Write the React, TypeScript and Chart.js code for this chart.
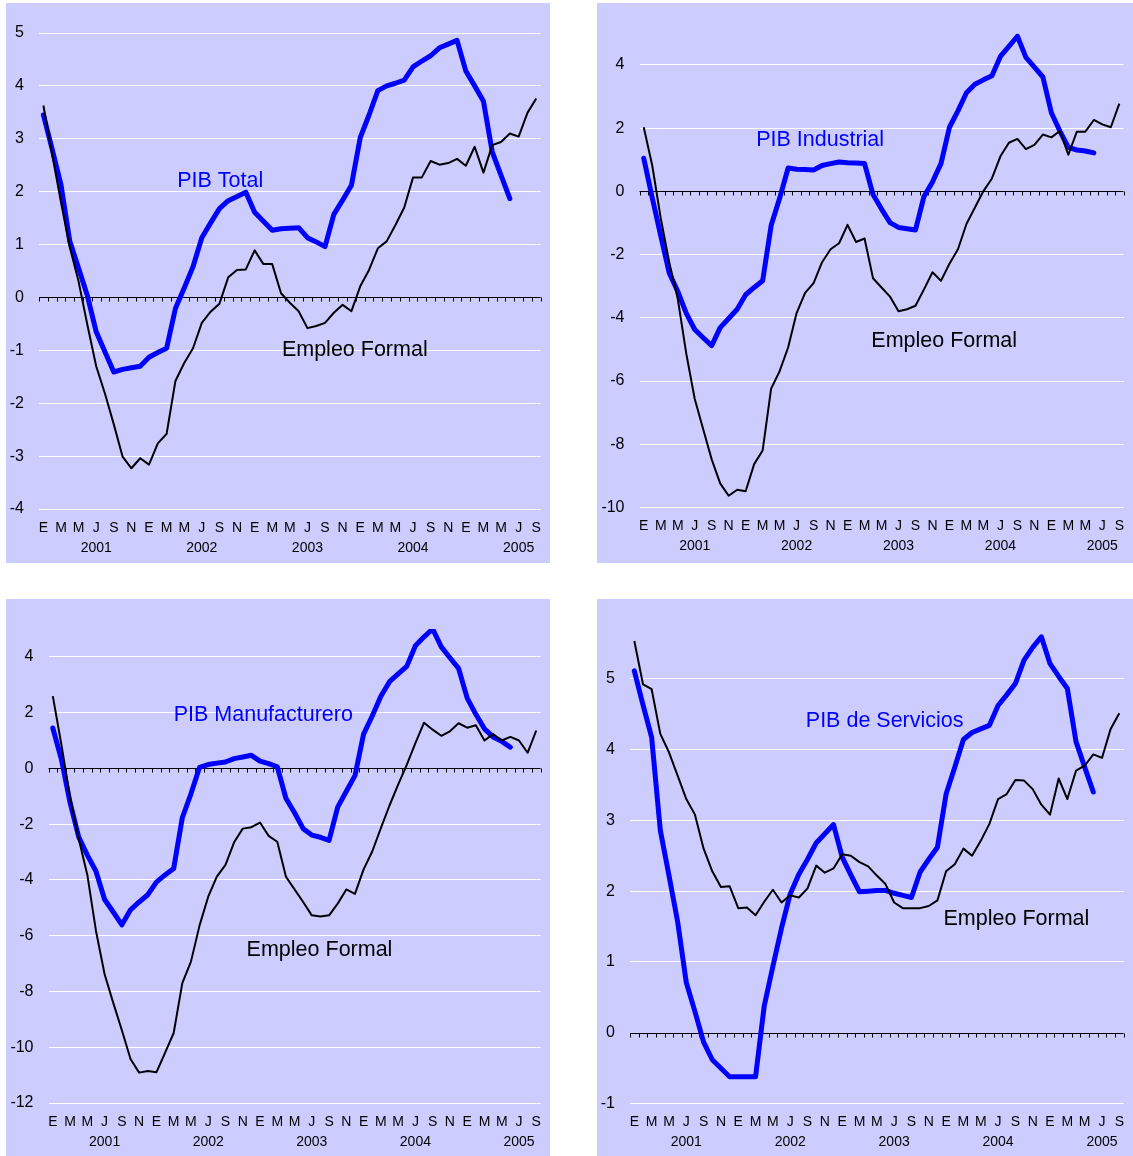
import React, { useEffect, useRef } from 'react';
import { Chart, registerables } from 'chart.js';

Chart.register(...registerables);

// ---------- data ----------
const MONTH_LETTERS = ['E', 'F', 'M', 'A', 'M', 'J', 'J', 'A', 'S', 'O', 'N', 'D'];
const YEARS = ['2001', '2002', '2003', '2004', '2005'];
const N_MONTHS = 57; // Ene 2001 - Sep 2005

const categories: string[] = [];
YEARS.forEach((y) => {
  MONTH_LETTERS.forEach((m) => {
    if (categories.length < N_MONTHS) categories.push(m + ' ' + y);
  });
});

const pibTotal = [
  3.45, 2.8, 2.13, 1.06, 0.55, 0.03, -0.65, -1.03, -1.41, -1.36, -1.33, -1.3,
  -1.13, -1.04, -0.96, -0.21, 0.18, 0.58, 1.13, 1.41, 1.68, 1.83, 1.91, 1.99,
  1.61, 1.44, 1.27, 1.3, 1.31, 1.32, 1.13, 1.05, 0.96, 1.57, 1.84, 2.12,
  3.02, 3.45, 3.91, 4.0, 4.05, 4.11, 4.36, 4.47, 4.57, 4.72, 4.79, 4.86,
  4.28, 4.0, 3.71, 2.75, 2.31, 1.87,
];
const empleoTotal = [
  3.63, 2.7, 1.8, 0.95, 0.3, -0.52, -1.3, -1.82, -2.4, -3.01, -3.23, -3.04,
  -3.16, -2.76, -2.58, -1.58, -1.24, -0.96, -0.48, -0.27, -0.12, 0.38, 0.52, 0.53,
  0.89, 0.63, 0.63, 0.08, -0.1, -0.26, -0.58, -0.54, -0.48, -0.29, -0.14, -0.26,
  0.21, 0.52, 0.93, 1.06, 1.37, 1.7, 2.27, 2.27, 2.58, 2.51, 2.54, 2.62,
  2.49, 2.85, 2.36, 2.88, 2.94, 3.1, 3.04, 3.49, 3.76,
];

const pibIndustrial = [
  1.05, -0.2, -1.4, -2.58, -3.16, -3.85, -4.37, -4.63, -4.88, -4.31, -4.02, -3.73,
  -3.27, -3.04, -2.83, -1.08, -0.22, 0.74, 0.7, 0.69, 0.68, 0.82, 0.88, 0.93,
  0.91, 0.9, 0.88, -0.1, -0.56, -0.99, -1.14, -1.18, -1.22, -0.16, 0.3, 0.88,
  2.03, 2.55, 3.12, 3.39, 3.53, 3.66, 4.27, 4.59, 4.91, 4.24, 3.93, 3.62,
  2.49, 1.91, 1.39, 1.31, 1.28, 1.22,
];
const empleoIndustrial = [
  2.03, 0.82, -0.85, -2.24, -3.39, -5.12, -6.56, -7.53, -8.48, -9.24, -9.63, -9.44,
  -9.49, -8.63, -8.2, -6.24, -5.69, -4.94, -3.85, -3.21, -2.9, -2.24, -1.83, -1.64,
  -1.06, -1.6, -1.49, -2.75, -3.04, -3.33, -3.79, -3.73, -3.62, -3.1, -2.56, -2.83,
  -2.29, -1.83, -1.03, -0.51, 0.01, 0.41, 1.11, 1.54, 1.66, 1.34, 1.47, 1.8,
  1.71, 1.91, 1.16, 1.89, 1.89, 2.26, 2.12, 2.03, 2.78,
];

const pibManufacturero = [
  1.45, 0.32, -1.23, -2.46, -3.11, -3.69, -4.7, -5.15, -5.61, -5.07, -4.79, -4.53,
  -4.08, -3.82, -3.59, -1.77, -0.91, 0.04, 0.14, 0.19, 0.23, 0.35, 0.41, 0.47,
  0.26, 0.17, 0.06, -1.07, -1.59, -2.16, -2.39, -2.47, -2.58, -1.39, -0.82, -0.26,
  1.23, 1.88, 2.59, 3.11, 3.39, 3.66, 4.4, 4.72, 5.0, 4.36, 3.97, 3.59,
  2.52, 1.94, 1.42, 1.13, 0.97, 0.76,
];
const empleoManufacturero = [
  2.59, 0.84, -1.04, -2.52, -3.82, -5.83, -7.38, -8.41, -9.39, -10.42, -10.91, -10.85,
  -10.9, -10.2, -9.49, -7.7, -6.93, -5.63, -4.6, -3.88, -3.46, -2.65, -2.16, -2.11,
  -1.94, -2.42, -2.63, -3.88, -4.34, -4.79, -5.27, -5.31, -5.27, -4.85, -4.34, -4.5,
  -3.62, -2.98, -2.14, -1.33, -0.58, 0.13, 0.91, 1.64, 1.39, 1.17, 1.33, 1.62,
  1.46, 1.55, 1.0, 1.23, 1.0, 1.13, 1.0, 0.56, 1.36,
];

const pibServicios = [
  5.11, 4.63, 4.17, 2.86, 2.22, 1.57, 0.71, 0.3, -0.13, -0.38, -0.5, -0.62,
  -0.62, -0.62, -0.62, 0.38, 0.94, 1.48, 1.96, 2.24, 2.45, 2.68, 2.81, 2.94,
  2.48, 2.23, 1.99, 2.0, 2.01, 2.01, 1.97, 1.94, 1.91, 2.27, 2.45, 2.62,
  3.37, 3.75, 4.14, 4.24, 4.29, 4.34, 4.62, 4.77, 4.93, 5.26, 5.44, 5.59,
  5.21, 5.03, 4.86, 4.11, 3.75, 3.4,
];
const empleoServicios = [
  5.53, 4.92, 4.85, 4.22, 3.96, 3.63, 3.3, 3.08, 2.6, 2.28, 2.06, 2.07,
  1.76, 1.77, 1.66, 1.85, 2.02, 1.84, 1.94, 1.91, 2.04, 2.36, 2.26, 2.32,
  2.52, 2.5, 2.41, 2.35, 2.22, 2.1, 1.84, 1.76, 1.76, 1.76, 1.79, 1.87,
  2.28, 2.38, 2.6, 2.5, 2.71, 2.95, 3.3, 3.37, 3.57, 3.56, 3.44, 3.22,
  3.08, 3.59, 3.3, 3.7, 3.77, 3.93, 3.88, 4.29, 4.51,
];

const ticksTotal = [-4, -3, -2, -1, 0, 1, 2, 3, 4, 5];
const ticksIndustrial = [-10, -8, -6, -4, -2, 0, 2, 4];
const ticksManufacturero = [-12, -10, -8, -6, -4, -2, 0, 2, 4];
const ticksServicios = [-1, 0, 1, 2, 3, 4, 5];

// ---------- styling / layout ----------
const BG = '#CCCCFF';
const BLUE = '#0000FF';
const FONT = '"Liberation Sans", Arial, Helvetica, sans-serif';

type PanelCfg = {
  left: number; top: number; width: number; height: number;
  areaLeft: number; areaTop: number; areaRightPad: number; axisHeight: number;
  min: number; max: number; ticks: number[];
  pib: number[]; empleo: number[];
  pibLabel: string; pibAt: [number, number]; empAt: [number, number];
};

const panels: PanelCfg[] = [
  {
    left: 6, top: 3, width: 544, height: 560,
    areaLeft: 33, areaTop: 30, areaRightPad: 8.5, axisHeight: 54,
    min: -4, max: 5, ticks: ticksTotal,
    pib: pibTotal, empleo: empleoTotal,
    pibLabel: 'PIB Total', pibAt: [15.2, 2.2], empAt: [27.1, -0.99],
  },
  {
    left: 597, top: 3, width: 536, height: 560,
    areaLeft: 42.5, areaTop: 30.4, areaRightPad: 2.5, axisHeight: 55.6,
    min: -10, max: 5, ticks: ticksIndustrial,
    pib: pibIndustrial, empleo: empleoIndustrial,
    pibLabel: 'PIB Industrial', pibAt: [13.24, 1.63], empAt: [26.8, -4.74],
  },
  {
    left: 6, top: 599, width: 544, height: 557,
    areaLeft: 42.5, areaTop: 30, areaRightPad: 8.7, axisHeight: 53,
    min: -12, max: 5, ticks: ticksManufacturero,
    pib: pibManufacturero, empleo: empleoManufacturero,
    pibLabel: 'PIB Manufacturero', pibAt: [14.0, 1.92], empAt: [22.45, -6.5],
  },
  {
    left: 597, top: 599, width: 536, height: 557,
    areaLeft: 33, areaTop: 30, areaRightPad: 2.6, axisHeight: 52.3,
    min: -1, max: 5.7, ticks: ticksServicios,
    pib: pibServicios, empleo: empleoServicios,
    pibLabel: 'PIB de Servicios', pibAt: [19.8, 4.4], empAt: [35.7, 1.61],
  },
];

const zeroAxisPlugin = {
  id: 'zeroAxis',
  beforeDatasetsDraw(chart: any) {
    const { ctx, chartArea, scales } = chart;
    const y0 = Math.round(scales.y.getPixelForValue(0)) + 0.5;
    const n = chart.data.labels.length;
    const step = (chartArea.right - chartArea.left) / n;
    ctx.save();
    ctx.strokeStyle = '#000000';
    ctx.lineWidth = 1;
    ctx.beginPath();
    ctx.moveTo(chartArea.left, y0);
    ctx.lineTo(chartArea.right, y0);
    for (let i = 0; i <= n; i++) {
      const x = Math.round(chartArea.left + i * step) + 0.5;
      ctx.moveTo(x, y0);
      ctx.lineTo(x, y0 + 4);
    }
    ctx.stroke();
    ctx.restore();
  },
};

const textLabelPlugin = {
  id: 'textLabels',
  afterDatasetsDraw(chart: any, _args: any, opts: any) {
    const { ctx, scales } = chart;
    const items = (opts && opts.items) || [];
    ctx.save();
    ctx.font = '21.5px ' + FONT;
    ctx.textAlign = 'left';
    ctx.textBaseline = 'middle';
    items.forEach((it: any) => {
      const x0 = scales.x.getPixelForValue(0);
      const x1 = scales.x.getPixelForValue(1);
      const x = x0 + (x1 - x0) * it.at[0];
      const y = scales.y.getPixelForValue(it.at[1]);
      ctx.fillStyle = it.color;
      ctx.fillText(it.text, x, y);
    });
    ctx.restore();
  },
};

function Panel({ cfg }: { cfg: PanelCfg }) {
  const ref = useRef<HTMLCanvasElement | null>(null);
  useEffect(() => {
    if (!ref.current) return;
    const chart = new Chart(ref.current, {
      type: 'line',
      data: {
        labels: categories,
        datasets: [
          {
            label: 'Empleo Formal',
            data: cfg.empleo,
            borderColor: '#000000',
            borderWidth: 2,
            pointRadius: 0,
            tension: 0,
            fill: false,
            borderJoinStyle: 'round',
          },
          {
            label: cfg.pibLabel,
            data: cfg.pib,
            borderColor: BLUE,
            borderWidth: 5,
            pointRadius: 0,
            tension: 0,
            fill: false,
            borderJoinStyle: 'round',
            borderCapStyle: 'round',
          },
        ],
      },
      options: {
        animation: false,
        responsive: false,
        devicePixelRatio: 1,
        layout: { padding: { left: 0, top: cfg.areaTop, right: cfg.areaRightPad, bottom: 0 } },
        plugins: {
          legend: { display: false },
          tooltip: { enabled: false },
          title: { display: false },
          textLabels: {
            items: [
              { text: cfg.pibLabel, at: cfg.pibAt, color: BLUE },
              { text: 'Empleo Formal', at: cfg.empAt, color: '#000000' },
            ],
          },
        } as any,
        scales: {
          x: {
            type: 'category',
            offset: true,
            grid: { display: false, drawTicks: false },
            border: { display: false },
            afterFit: (s: any) => { s.height = cfg.axisHeight; },
            ticks: {
              autoSkip: false,
              maxRotation: 0,
              minRotation: 0,
              padding: 9,
              color: '#000000',
              font: { family: FONT, size: 14, lineHeight: 1.42 },
              callback: (_v: any, i: number) => {
                if (i % 2 !== 0) return '';
                const [letter, year] = categories[i].split(' ');
                return i % 12 === 6 ? [letter, year] : letter;
              },
            },
          },
          y: {
            min: cfg.min,
            max: cfg.max,
            afterFit: (s: any) => { s.width = cfg.areaLeft; },
            afterBuildTicks: (s: any) => { s.ticks = cfg.ticks.map((v) => ({ value: v })); },
            grid: {
              drawTicks: false,
              color: (c: any) => (c.tick && c.tick.value === 0 ? 'rgba(0,0,0,0)' : '#FFFFFF'),
              lineWidth: 1,
            },
            border: { display: false },
            ticks: {
              padding: 15,
              color: '#000000',
              font: { family: FONT, size: 16 },
              callback: (v: any) => String(v),
            },
          },
        },
      },
      plugins: [zeroAxisPlugin, textLabelPlugin],
    } as any);
    return () => chart.destroy();
  }, [cfg]);

  return (
    <div
      style={{
        position: 'absolute',
        left: cfg.left,
        top: cfg.top,
        width: cfg.width,
        height: cfg.height,
        background: BG,
      }}
    >
      <canvas ref={ref} width={cfg.width} height={cfg.height} style={{ display: 'block' }} />
    </div>
  );
}

export default function App() {
  return (
    <div style={{ position: 'absolute', left: 0, top: 0, width: 1133, height: 1156, background: '#FFFFFF', overflow: 'hidden' }}>
      {panels.map((p, i) => (
        <Panel key={i} cfg={p} />
      ))}
    </div>
  );
}
